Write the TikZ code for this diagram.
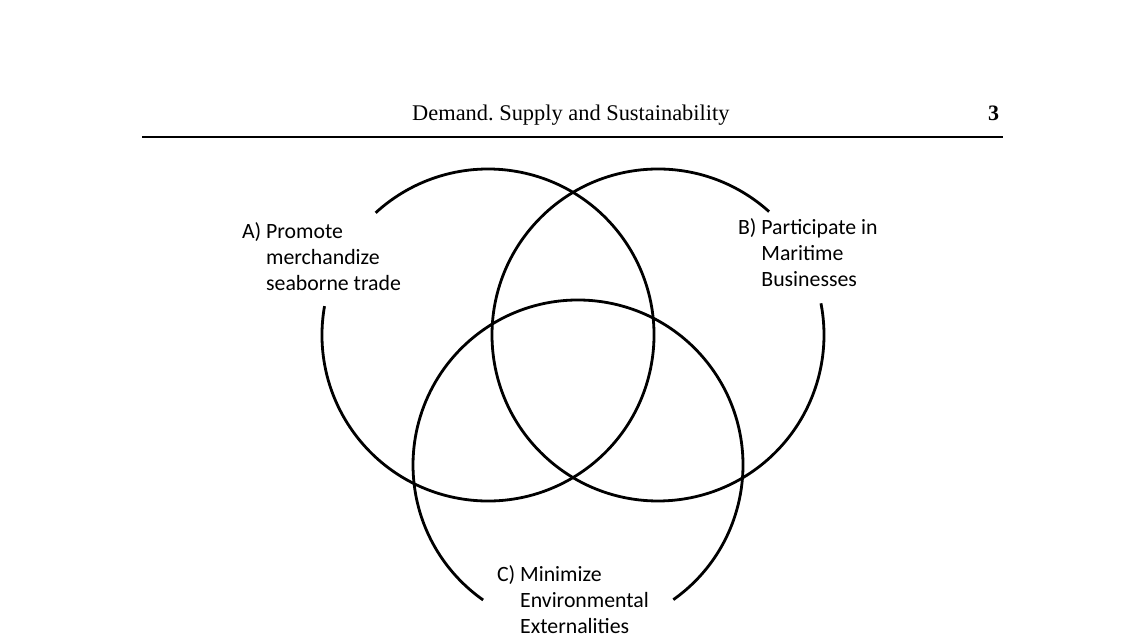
\documentclass[tikz,border=0pt]{standalone}
\usepackage{fontspec}
\setmainfont{Liberation Serif}
\newfontfamily\labelfont{Carlito}
\frenchspacing
\begin{document}
\begin{tikzpicture}[x=1pt,y=1pt,
  ring/.style={line width=2.8pt, black},
  lbl/.style={anchor=base west, inner sep=0pt, outer sep=0pt, font=\labelfont\fontsize{21.8}{26}\selectfont},
  head/.style={anchor=base west, inner sep=0pt, font=\fontsize{22.4}{26}\selectfont}]
\useasboundingbox[fill=white] (0,0) rectangle (1135,644);
% header
\node[head] (title) at (412,523) {Demand. Supply and Sustainability};
\node[head, font=\bfseries\fontsize{22}{26}\selectfont] (page) at (988,523) {3};
\coordinate (ruleL) at (142,507);
\coordinate (ruleR) at (1003,507);
\draw[line width=2.2pt] (ruleL) -- (ruleR);
% circle centres
\coordinate (cA) at (488,309);
\coordinate (cB) at (658,309);
\coordinate (cC) at (578,179);
% circles with gaps for labels
\draw[ring] (cA) ++(170:166) arc[start angle=170, end angle=492.6, radius=166];
\draw[ring] (cB) ++(48:166) arc[start angle=48, end angle=371, radius=166];
\draw[ring] (cC) ++(-54.7:165) arc[start angle=-54.7, end angle=234.9, radius=165];
% labels
\node[lbl] (labA) at (242,405) {\begin{tabular}[t]{@{}l@{\ }l@{}}A) & Promote\\ & merchandize\\ & seaborne trade\end{tabular}};
\node[lbl] (labB) at (738,409) {\begin{tabular}[t]{@{}l@{\ }l@{}}B) & Participate in\\ & Maritime\\ & Businesses\end{tabular}};
\node[lbl] (labC) at (497,62) {\begin{tabular}[t]{@{}l@{\ }l@{}}C) & Minimize\\ & Environmental\\ & Externalities\end{tabular}};
\end{tikzpicture}
\end{document}
